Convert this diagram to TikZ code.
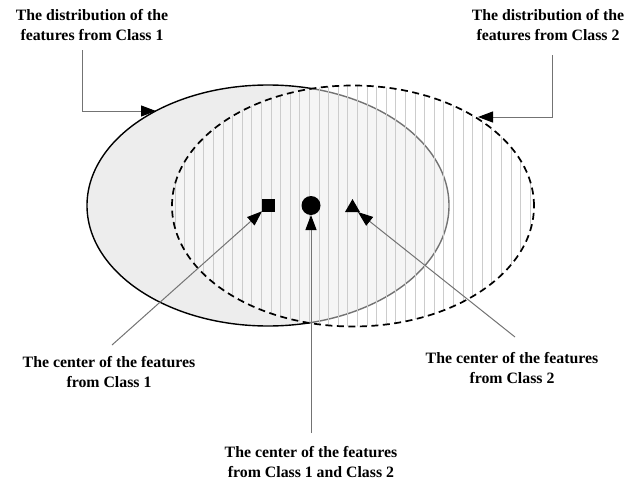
\documentclass[tikz,border=0pt]{standalone}
\usepackage{fontspec}
\setmainfont{Liberation Serif}
\usetikzlibrary{arrows.meta,shapes.geometric}
\begin{document}
\begin{tikzpicture}[x=1pt,y=-1pt,
  lbl/.style={font=\bfseries\fontsize{15.8}{20}\selectfont, align=center, inner sep=0pt},
  conn/.style={draw=black!55, line width=1pt, -{Triangle[length=15pt,width=11pt,color=black]}},
  sym/.style={fill=black, inner sep=0pt, outer sep=0pt}]
\useasboundingbox (0,0) rectangle (633,485);
% class 1 distribution (solid)
\path[fill=black!7] (268,205.5) ellipse [x radius=181pt, y radius=120.5pt];
\draw[black, line width=1.4pt] (268,205.5) ellipse [x radius=181pt, y radius=120.5pt];
% class 2 distribution (dashed, hatched)
\path[fill=white, fill opacity=0.45] (353,206) ellipse [x radius=181pt, y radius=120.5pt];
\begin{scope}
  \clip (353,206) ellipse [x radius=181pt, y radius=120.5pt];
  \foreach \i in {0,...,38} \draw[black!20, line width=0.9pt] ({175+9.6*\i},80) -- ++(0,260);
\end{scope}
\draw[black, line width=1.7pt, dash pattern=on 7pt off 4.5pt] (353,206) ellipse [x radius=181pt, y radius=120.5pt];
% centers
\node[sym, minimum size=13pt] (sq) at (268.5,205.5) {};
\node[sym, circle, minimum size=19pt] (ci) at (311,205.5) {};
\node[sym, regular polygon, regular polygon sides=3, minimum size=17.3pt] (tr) at (352.5,207.7) {};
% labels
\node[lbl] (l1) at (92,25) {The distribution of the\\features from Class 1};
\node[lbl] (l2) at (548,25) {The distribution of the\\features from Class 2};
\node[lbl] (l3) at (109,372) {The center of the features\\from Class 1};
\node[lbl] (l4) at (512,368) {The center of the features\\from Class 2};
\node[lbl] (l5) at (311,462) {The center of the features\\from Class 1 and Class 2};
% connector ends
\coordinate (a1) at (82,50);
\coordinate (t1) at (156,111);
\coordinate (a2) at (552,55);
\coordinate (t2) at (478,117);
\coordinate (a3) at (112,345);
\coordinate (a4) at (515,337);
\coordinate (a5) at (311,433);
\draw[conn] (a1) |- (t1);
\draw[conn] (a2) |- (t2);
\draw[conn] (a3) -- (sq);
\draw[conn] (a4) -- (tr);
\draw[conn] (a5) -- (ci);
\end{tikzpicture}
\end{document}
